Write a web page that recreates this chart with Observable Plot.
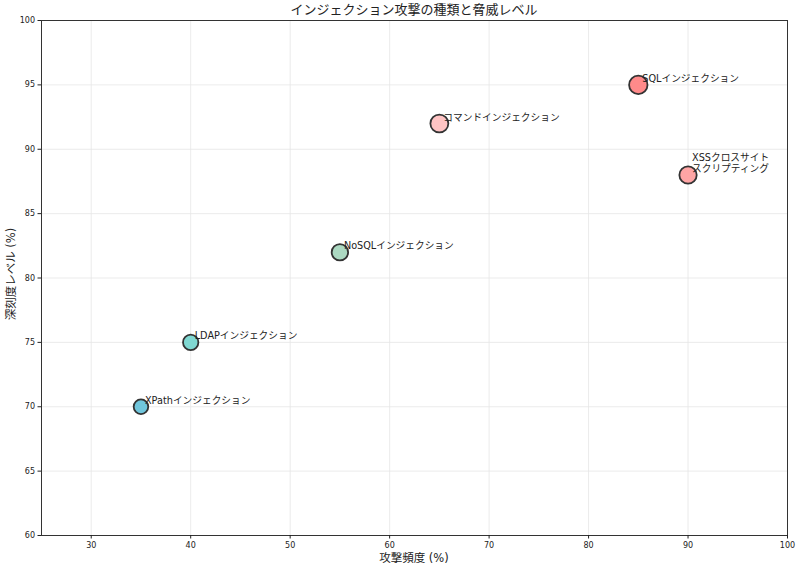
<!DOCTYPE html>
<html>
<head>
<meta charset="utf-8">
<script src="https://cdn.jsdelivr.net/npm/d3@7"></script>
<script src="https://cdn.jsdelivr.net/npm/@observablehq/plot@0.6"></script>
<style>
  body { margin: 0; background: #fff; font-family: "DejaVu Sans", "Noto Sans CJK JP", sans-serif; }
  #wrap { width: 800px; }
  #title { height: 16px; line-height: 19px; font-size: 13px; color: #222; text-align: center; padding-left: 28px; font-family: "DejaVu Sans", "Noto Sans CJK JP", sans-serif; }
</style>
</head>
<body>
<div id="wrap">
  <div id="title">インジェクション攻撃の種類と脅威レベル</div>
  <div id="chart"></div>
</div>
<script>
const attackTypes = ["SQLインジェクション", "コマンドインジェクション", "XSSクロスサイト\nスクリプティング", "NoSQLインジェクション", "LDAPインジェクション", "XPathインジェクション"];
const frequency = [85, 65, 90, 55, 40, 35];
const severity = [95, 92, 88, 82, 75, 70];
const palette = ["#ff8a8a", "#ffc4c4", "#ffa5a5", "#acd9c2", "#80d8d2", "#70c6dc"];
const xTicks = [30, 40, 50, 60, 70, 80, 90, 100];
const yTicks = [60, 65, 70, 75, 80, 85, 90, 95, 100];

const data = attackTypes.map((name, i) => ({ name, freq: frequency[i], sev: severity[i] }));

const font = "DejaVu Sans, Noto Sans CJK JP, sans-serif";
const chart = Plot.plot({
  width: 800,
  height: 553,
  marginTop: 4,
  marginBottom: 34,
  marginLeft: 41,
  marginRight: 13,
  style: { fontFamily: font, fontSize: "8px", color: "#222", background: "#fff" },
  x: { domain: [25, 100], ticks: xTicks, tickSize: 3.5, tickPadding: 3, label: null },
  y: { domain: [60, 100], ticks: yTicks, tickSize: 3.5, tickPadding: 3, label: null },
  r: { type: "linear", domain: [70, 95], range: [7.3, 9.2] },
  color: { domain: attackTypes, range: palette },
  marks: [
    Plot.gridX(xTicks, { stroke: "#e6e6e6", strokeOpacity: 1, strokeWidth: 0.8 }),
    Plot.gridY(yTicks, { stroke: "#e6e6e6", strokeOpacity: 1, strokeWidth: 0.8 }),
    Plot.frame({ stroke: "#333", strokeWidth: 1 }),
    Plot.axisX(xTicks, { tickSize: 3.5, tickPadding: 3, fontSize: 8, label: null }),
    Plot.axisY(yTicks, { tickSize: 3.5, tickPadding: 3, fontSize: 8, label: null }),
    Plot.dot(data, { x: "freq", y: "sev", r: "sev", fill: "name", stroke: "#333", strokeWidth: 1.8 }),
    Plot.text(data, { x: "freq", y: "sev", text: "name", textAnchor: "start", lineAnchor: "bottom", dx: 4, dy: -3, fontSize: 9.7, fill: "#222", lineHeight: 1.18, fontFamily: font })
  ]
});

const svg = d3.select(chart);
svg.append("text")
  .attr("x", 41 + (800 - 41 - 13) / 2)
  .attr("y", 546)
  .attr("text-anchor", "middle")
  .attr("font-size", 11.5)
  .attr("fill", "#222")
  .attr("font-family", font)
  .text("攻撃頻度 (%)");
svg.append("text")
  .attr("transform", `translate(15, 258) rotate(-90)`)
  .attr("text-anchor", "middle")
  .attr("font-size", 11.5)
  .attr("fill", "#222")
  .attr("font-family", font)
  .text("深刻度レベル (%)");

document.getElementById("chart").appendChild(chart);
</script>
</body>
</html>
